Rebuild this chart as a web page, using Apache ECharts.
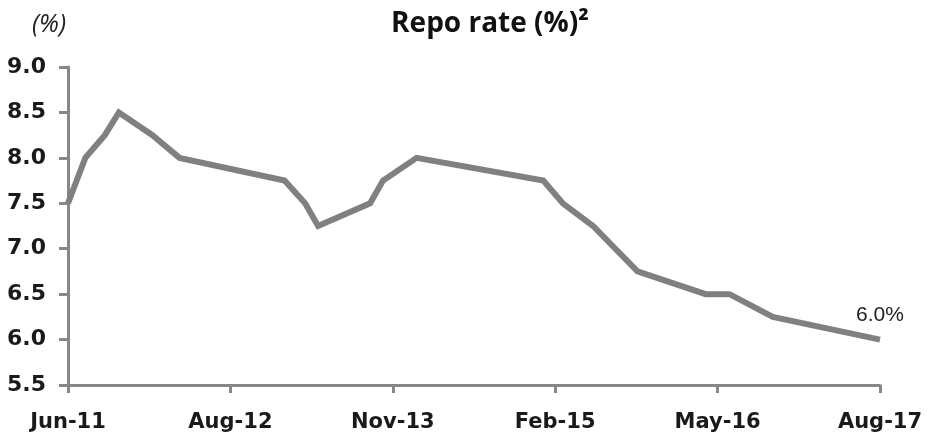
<!DOCTYPE html>
<html>
<head>
<meta charset="utf-8">
<script src="https://cdn.jsdelivr.net/npm/echarts@6/dist/echarts.min.js"></script>
<style>
  html, body { margin: 0; padding: 0; background: #fff; }
  #chart { width: 941px; height: 439px; }
</style>
</head>
<body>
<div id="chart"></div>
<script>
// month index from Jun-11 (axis runs 0..75)
var periodIdx = [0, 1.6, 3.4, 4.7, 7.8, 10.3, 20, 21.9, 23.1, 27.9, 29.1, 32.2, 43.9, 45.7, 48.5, 52.6, 58.9, 61.1, 65.1, 75];
var repoRate  = [7.5, 8.0, 8.25, 8.5, 8.25, 8.0, 7.75, 7.5, 7.25, 7.5, 7.75, 8.0, 7.75, 7.5, 7.25, 6.75, 6.5, 6.5, 6.25, 6.0];
var tickIdx    = [0, 15, 30, 45, 60, 75];
var tickLabels = ["Jun-11", "Aug-12", "Nov-13", "Feb-15", "May-16", "Aug-17"];

var axisGrey = "#878787";

var seriesData = periodIdx.map(function (x, i) { return [x, repoRate[i]]; });

var chart = echarts.init(document.getElementById("chart"));
var option = {
  animation: false,
  title: [
    {
      text: "Repo rate (%)²",
      left: 485, top: 5, textAlign: "center",
      textStyle: { fontFamily: "Open Sans", fontWeight: "bold", fontSize: 28, color: "#111" }
    },
    {
      text: "(%)",
      left: 27, top: 7,
      textStyle: { fontFamily: "Open Sans", fontStyle: "italic", fontWeight: "normal", fontSize: 25, color: "#222" }
    }
  ],
  grid: { left: 68, right: 61, top: 67, bottom: 54 },
  xAxis: {
    type: "value",
    min: 0, max: 75, interval: 15,
    splitLine: { show: false },
    axisLine: { show: true, lineStyle: { color: axisGrey, width: 3 } },
    axisTick: { show: true, length: 8, lineStyle: { color: axisGrey, width: 3 } },
    axisLabel: {
      margin: 27,
      fontFamily: "DejaVu Sans", fontWeight: "bold", fontSize: 21, color: "#1a1a1a",
      formatter: function (v) {
        var k = tickIdx.indexOf(v);
        return k >= 0 ? tickLabels[k] : "";
      }
    }
  },
  yAxis: {
    type: "value",
    min: 5.5, max: 9.0, interval: 0.5,
    splitLine: { show: false },
    axisLine: { show: true, lineStyle: { color: axisGrey, width: 3 } },
    axisTick: { show: true, length: 9, lineStyle: { color: axisGrey, width: 3 } },
    axisLabel: {
      margin: 22,
      fontFamily: "DejaVu Sans", fontWeight: "bold", fontSize: 22, color: "#1a1a1a",
      formatter: function (v) { return v.toFixed(1); }
    }
  },
  series: [
    {
      type: "line",
      data: seriesData,
      showSymbol: false,
      symbol: "none",
      lineStyle: { color: "#808080", width: 6, cap: "butt", join: "miter" },
      markPoint: {
        symbol: "rect", symbolSize: 0,
        data: [{ coord: seriesData[seriesData.length - 1] }],
        label: {
          show: true, position: "top", distance: 14,
          formatter: function () { return repoRate[repoRate.length - 1].toFixed(1) + "%"; },
          fontFamily: "Liberation Sans", fontSize: 21, color: "#222"
        }
      }
    }
  ]
};
chart.setOption(option);
window.addEventListener("resize", function () { chart.resize(); });
</script>
</body>
</html>
